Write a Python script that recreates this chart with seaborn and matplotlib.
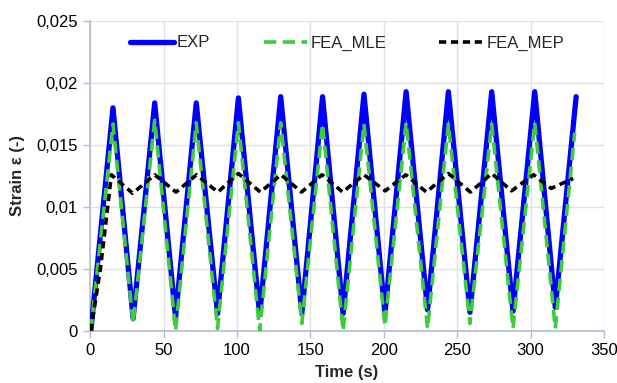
import pandas as pd
import seaborn as sns
import matplotlib.pyplot as plt

# turning points
exp_t = [0.5, 15.6, 29.3, 44.0, 58.2, 72.3, 86.8, 101.0, 115.5, 129.8, 144.2, 158.3,
         172.3, 186.5, 200.8, 215.2, 229.8, 244.0, 258.7, 273.5, 288.0, 302.8, 316.8, 331.0]
exp_v = [0.0, 0.0180, 0.0010, 0.0184, 0.0011, 0.0184, 0.0014, 0.0188, 0.0013, 0.0189, 0.0014,
         0.0189, 0.0014, 0.0191, 0.0014, 0.0193, 0.0017, 0.0193, 0.0015, 0.0193, 0.0016,
         0.0193, 0.0019, 0.0189]

mle_t = [0.5, 15.6, 29.3, 44.0, 58.2, 72.3, 86.8, 101.0, 115.5, 129.8, 144.2, 158.3,
         172.3, 186.5, 200.8, 215.2, 229.8, 244.0, 258.7, 273.5, 288.0, 302.8, 316.8, 330.0]
mle_v = [0.0, 0.0167, 0.0006, 0.0170, 0.0000, 0.0168, 0.0002, 0.0168, 0.0000, 0.0168, 0.0006,
         0.0167, 0.0000, 0.0167, 0.0004, 0.0168, 0.0002, 0.0167, 0.0006, 0.0167, 0.0002,
         0.0168, 0.0002, 0.0160]

mep_t = [0.5, 7.0, 12.0, 14.5, 29.0, 44.0, 58.5, 72.5, 87.0, 101.0, 116.0, 130.0, 144.0,
         158.0, 172.0, 186.5, 201.0, 215.0, 229.0, 244.0, 259.0, 273.5, 287.0, 302.0, 314.0, 329.0]
mep_v = [0.0, 0.0050, 0.0100, 0.0126, 0.0111, 0.0126, 0.0112, 0.0126, 0.0112, 0.0127, 0.0112,
         0.0126, 0.0112, 0.0126, 0.0112, 0.0126, 0.0113, 0.0126, 0.0112, 0.0127, 0.0112,
         0.0127, 0.0113, 0.0126, 0.0115, 0.0123]

x_ticks = [0, 50, 100, 150, 200, 250, 300, 350]
y_ticks = [0, 0.005, 0.01, 0.015, 0.02, 0.025]
y_labels = ["0", "0,005", "0,01", "0,015", "0,02", "0,025"]

sns.set_theme(style="whitegrid")
plt.rcParams['font.family'] = ['Liberation Sans', 'DejaVu Sans']

fig = plt.figure(figsize=(6.17, 3.83), dpi=100)
ax = fig.add_axes([0.146, 0.136, 0.833, 0.809])

exp_df = pd.DataFrame({"t": exp_t, "v": exp_v})
mle_df = pd.DataFrame({"t": mle_t, "v": mle_v})
mep_df = pd.DataFrame({"t": mep_t, "v": mep_v})

sns.lineplot(data=exp_df, x="t", y="v", sort=False, ax=ax, color="#0000ff",
             linewidth=3.8, label="EXP", solid_joinstyle="round",
             solid_capstyle="round", zorder=3)
sns.lineplot(data=mle_df, x="t", y="v", sort=False, ax=ax, color="#3ccc3c",
             linewidth=2.6, label="FEA_MLE", zorder=4)
ax.lines[-1].set_dashes([3.4, 1.8])
sns.lineplot(data=mep_df, x="t", y="v", sort=False, ax=ax, color="black",
             linewidth=2.6, label="FEA_MEP", zorder=5)
ax.lines[-1].set_dashes([2.0, 1.3])

ax.set_xlim(0, 350)
ax.set_ylim(0, 0.025)
ax.set_xticks(x_ticks)
ax.set_xticklabels([str(v) for v in x_ticks])
ax.set_yticks(y_ticks)
ax.set_yticklabels(y_labels)

ax.grid(True, color="#dde1ea", linewidth=1.0)
ax.set_axisbelow(True)
for side in ["top", "right"]:
    ax.spines[side].set_visible(False)
for side in ["left", "bottom"]:
    ax.spines[side].set_color("#b4bccf")
    ax.spines[side].set_linewidth(1.2)
ax.tick_params(axis="both", which="both", direction="out", length=5, width=1.0,
               color="#b4bccf", labelsize=12, labelcolor="black",
               left=True, bottom=True, pad=4)

ax.set_xlabel("Time (s)", fontsize=12, fontweight="bold", labelpad=5)
ax.set_ylabel("Strain ε (-)", fontsize=12, fontweight="bold", labelpad=8)

ax.legend(loc="center", bbox_to_anchor=(0.5, 0.929), ncol=3, frameon=False,
          fontsize=12, handlelength=2.6, columnspacing=3.2, handletextpad=0.2)

fig.savefig("out.png", dpi=100, facecolor="white")
